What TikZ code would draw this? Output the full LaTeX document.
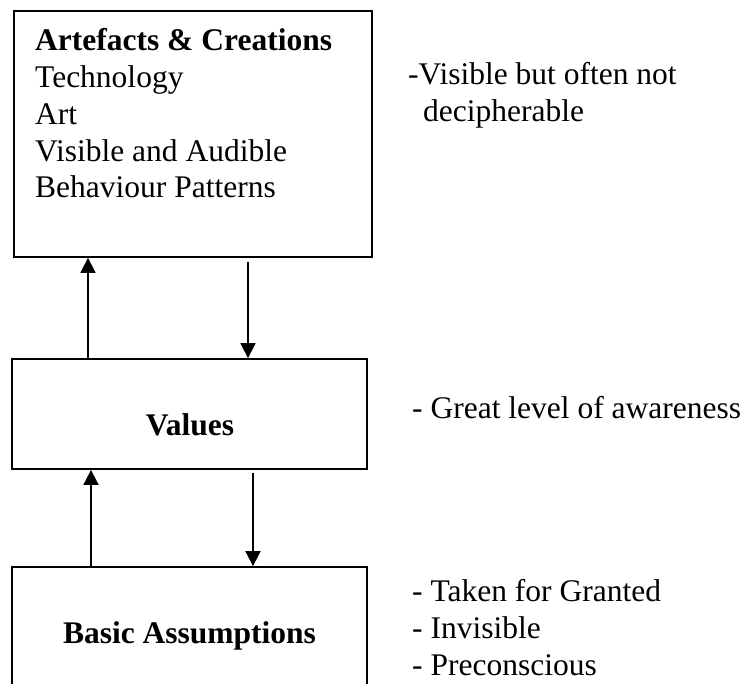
\documentclass[tikz,border=0pt]{standalone}
\usepackage{fontspec}
\setmainfont{Liberation Serif}
\usetikzlibrary{arrows.meta}
\begin{document}
\begin{tikzpicture}[x=1pt,y=-1pt,
  layerbox/.style={draw, line width=1.8pt, inner sep=0pt},
  txt/.style={font=\fontsize{31.5}{36.8}\selectfont, inner sep=0pt, align=left},
  boldtxt/.style={txt, font=\fontsize{31.5}{36.8}\selectfont\bfseries},
  flow/.style={line width=1.8pt, -{Triangle[length=15pt,width=15pt]}}]
\useasboundingbox (0,0) rectangle (741,684);
\clip (0,0) rectangle (741,684);

% the three levels
\node[layerbox, minimum width=358pt, minimum height=246pt] (artefacts) at (193,134) {};
\node[layerbox, minimum width=355pt, minimum height=110pt] (values) at (189.5,414) {};
\node[layerbox, minimum width=355pt, minimum height=150pt] (assumptions) at (189.5,642) {};

% contents of the levels (multi-line nodes sit on their last baseline)
\node[txt, anchor=base west] (artlist) at (35,198)
  {\textbf{Artefacts \& Creations}\\Technology\\Art\\Visible and Audible\\Behaviour Patterns};
\node[boldtxt, anchor=base] (valuestxt) at (190,435) {Values};
\node[boldtxt, anchor=base] (assumtxt) at (189.5,643) {Basic Assumptions};

% notes on the right
\node[txt, anchor=base west] (note1) at (408,85) {-Visible but often not};
\node[txt, anchor=base west] (note1b) at (423,122) {decipherable};
\node[txt, anchor=base west] (note2) at (412,418) {- Great level of awareness};
\node[txt, anchor=base west] (note3) at (412,675)
  {- Taken for Granted\\- Invisible\\- Preconscious};

% arrow columns
\coordinate (upA) at (88,0);
\coordinate (upB) at (91,0);
\coordinate (downAstart) at (248,262);
\coordinate (downBstart) at (253,473);

\draw[flow] (values.north -| upA) -- (artefacts.south -| upA);
\draw[flow] (downAstart) -- (values.north -| downAstart);
\draw[flow] (assumptions.north -| upB) -- (values.south -| upB);
\draw[flow] (downBstart) -- (assumptions.north -| downBstart);
\end{tikzpicture}
\end{document}
